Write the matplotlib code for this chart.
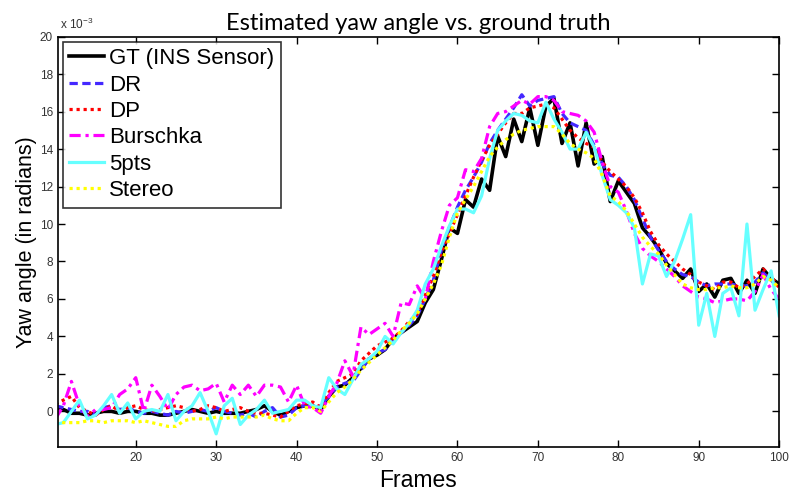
import matplotlib
matplotlib.use("Agg")
import matplotlib.pyplot as plt
import numpy as np

plt.rcParams['font.family'] = ['Liberation Sans', 'DejaVu Sans']
plt.rcParams['mathtext.default'] = 'regular'

# frames and yaw angle estimates (in units of 1e-3 rad)
frames = list(range(10, 101))

gt = [0.2, 0.1, -0.1, -0.1, -0.2, -0.1, 0.0, 0.0, -0.1, 0.0,
      0.0, -0.1, -0.1, -0.2, -0.2, -0.1, 0.0, 0.1, 0.0, -0.1,
      0.0, -0.1, -0.1, -0.1, 0.0, 0.1, 0.3, 0.0, -0.2, 0.0,
      0.2, 0.3, 0.3, 0.1, 0.8, 1.3, 1.4, 1.8, 2.3, 2.8,
      3.0, 3.3, 3.9, 4.2, 4.5, 4.8, 5.8, 6.5, 8.1, 9.8,
      9.5, 11.3, 10.9, 12.4, 11.8, 14.7, 13.6, 15.6, 14.4, 16.2,
      14.2, 16.3, 16.7, 14.3, 15.4, 13.1, 15.4, 13.2, 13.6, 11.2,
      12.3, 11.7, 11.1, 9.8, 9.3, 8.7, 7.9, 7.5, 7.1, 7.6,
      6.4, 6.8, 6.1, 7.0, 7.1, 6.3, 7.0, 6.3, 7.6, 7.1,
      6.8]

dr = [0.3, 0.2, 0.1, 0.0, 0.0, -0.2, 0.2, 0.3, 0.1, 0.2,
      0.0, -0.1, 0.0, -0.1, -0.2, 0.0, -0.1, 0.0, 0.1, 0.0,
      0.2, 0.0, -0.1, -0.2, -0.1, -0.3, 0.0, 0.2, -0.3, -0.2,
      0.2, 0.3, 0.2, 0.3, 0.8, 1.3, 1.5, 1.6, 2.2, 2.8,
      3.1, 3.3, 3.8, 4.2, 4.6, 5.1, 6.0, 7.0, 8.6, 9.8,
      10.9, 11.8, 12.5, 13.3, 14.3, 15.0, 15.6, 16.2, 16.9, 16.3,
      16.6, 16.7, 16.8, 15.9, 15.4, 15.2, 15.0, 14.2, 13.2, 12.6,
      12.5, 12.0, 11.3, 10.3, 9.3, 8.6, 8.0, 7.6, 7.3, 7.2,
      6.9, 6.7, 6.8, 6.8, 6.8, 6.7, 6.7, 6.9, 7.4, 7.0,
      6.6]

dp = [0.4, 0.6, 0.8, 0.2, 0.0, -0.2, 0.1, 0.3, 0.0, 0.2,
      0.3, 0.1, 0.0, 0.1, 0.2, 0.3, 0.2, 0.0, 0.1, 0.3,
      0.2, 0.0, 0.1, 0.2, 0.0, -0.1, -0.1, -0.2, -0.3, 0.0,
      0.3, 0.4, 0.5, 0.2, 1.0, 1.6, 1.8, 2.0, 2.7, 3.1,
      3.5, 3.7, 3.9, 4.3, 4.8, 5.2, 6.2, 7.2, 8.5, 9.5,
      10.5, 11.5, 12.5, 13.4, 14.2, 14.8, 15.4, 15.9, 15.9, 16.2,
      16.3, 16.4, 16.2, 15.6, 15.0, 14.6, 14.3, 14.1, 13.3, 12.8,
      12.4, 12.0, 11.4, 10.6, 9.6, 8.9, 8.4, 8.0, 7.6, 7.3,
      6.9, 6.7, 6.5, 6.9, 6.9, 6.6, 6.8, 7.2, 7.6, 7.2,
      6.6]

burschka = [-0.4, 0.3, 1.6, 0.3, -0.3, 0.1, 0.1, 0.2, 0.9, 1.2,
            1.8, 0.0, 1.4, 0.8, 0.1, 0.9, 1.3, 1.4, 1.1, 1.2,
            1.5, 0.5, 1.4, 0.9, 1.4, 0.8, 1.4, 1.4, 1.3, 0.5,
            1.4, 0.3, 0.2, -0.1, 0.8, 1.5, 2.7, 1.9, 4.5, 4.1,
            4.4, 4.7, 4.0, 5.8, 5.7, 6.7, 6.0, 8.0, 9.6, 11.0,
            11.4, 12.9, 12.8, 13.5, 15.2, 15.9, 16.0, 16.3, 16.6, 16.4,
            16.8, 16.8, 16.6, 16.0, 15.9, 15.8, 15.5, 14.9, 13.3, 12.0,
            11.7, 10.7, 9.5, 8.7, 8.3, 8.0, 7.6, 7.2, 6.7, 6.4,
            6.1, 6.0, 5.8, 5.9, 6.0, 6.0, 5.9, 6.4, 7.3, 6.5,
            6.0]

pts5 = [-0.7, -0.6, 0.0, 0.6, -0.4, -0.2, 0.3, 0.9, -0.1, 0.45,
        -0.4, 0.0, 0.1, 0.0, 0.9, -0.5, 0.0, 0.3, 1.0, 0.0,
        -1.2, 0.3, 0.7, -0.7, -0.2, 0.1, 0.6, -0.1, 0.0, 0.1,
        0.6, 0.6, 0.3, 0.2, 1.8, 1.2, 0.9, 1.7, 2.5, 2.8,
        3.2, 4.0, 3.6, 4.2, 4.7, 5.4, 6.8, 7.6, 8.8, 9.9,
        10.8, 10.8, 10.6, 11.5, 13.5, 15.0, 15.5, 15.9, 15.8, 15.5,
        15.4, 16.5, 15.6, 14.9, 14.0, 14.0, 14.9, 14.1, 12.6, 11.3,
        11.0, 10.6, 9.8, 6.8, 8.4, 8.3, 7.2, 8.0, 9.2, 10.5,
        4.6, 6.3, 4.0, 6.3, 6.6, 5.1, 10.0, 5.4, 6.5, 7.5,
        5.1]

stereo = [-0.5, -0.6, -0.6, -0.6, -0.5, -0.5, -0.6, -0.5, -0.5, -0.5,
          -0.6, -0.5, -0.6, -0.7, -0.8, -0.8, -0.5, -0.4, -0.4, -0.4,
          -0.3, -0.4, -0.3, -0.3, -0.3, -0.3, -0.2, -0.4, -0.5, -0.5,
          -0.1, 0.2, 0.2, 0.0, 0.5, 1.0, 1.3, 1.7, 2.2, 2.6,
          3.0, 3.4, 3.8, 4.3, 4.7, 5.2, 6.0, 6.8, 7.8, 9.3,
          10.6, 11.3, 12.0, 12.8, 13.6, 14.1, 14.5, 14.8, 15.0, 15.1,
          15.2, 15.2, 15.2, 14.8, 14.3, 14.0, 13.8, 13.5, 12.6, 11.5,
          11.2, 10.7, 10.0, 9.3, 8.8, 8.4, 7.8, 7.3, 6.8, 6.6,
          6.5, 6.5, 6.6, 6.6, 6.7, 6.6, 6.6, 6.8, 7.2, 7.0,
          6.6]

fig = plt.figure(figsize=(7.91, 4.92), dpi=100)
ax = fig.add_axes([0.073, 0.0915, 0.912, 0.834])

lw = 2.3
ax.plot(frames, gt, color='black', lw=lw + 0.3, label='GT (INS Sensor)')
ax.plot(frames, dr, color='#4428ff', lw=lw, ls=(0, (2.6, 1.4)), label='DR')
ax.plot(frames, dp, color='#ff0000', lw=lw, ls=(0, (1, 1.2)), label='DP')
ax.plot(frames, burschka, color='#ff00ff', lw=lw, ls=(0, (3.5, 1.5, 1, 1.5)), label='Burschka')
ax.plot(frames, pts5, color='#66ffff', lw=lw, label='5pts')
ax.plot(frames, stereo, color='#ffff00', lw=lw, ls=(0, (1, 1.2)), label='Stereo')

ax.set_xlim(10.3, 100)
ax.set_ylim(-1.9, 20)
ax.set_xticks(range(20, 101, 10))
ax.set_yticks(range(0, 21, 2))
ax.tick_params(direction='in', top=True, right=True, length=5, width=1,
               labelsize=8.5, labelcolor='#333333')
for s in ax.spines.values():
    s.set_linewidth(1.2)

ax.set_xlabel('Frames', fontsize=16.5, labelpad=4)
ax.set_ylabel('Yaw angle (in radians)', fontsize=15.5, labelpad=2)
ax.set_title('Estimated yaw angle vs. ground truth', fontsize=17,
             family=['Lato', 'DejaVu Sans'], pad=5)
ax.text(0.003, 1.012, r'x 10$^{-3}$', transform=ax.transAxes, fontsize=8.5,
        color='#333333', va='bottom', ha='left')

leg = ax.legend(loc='upper left', bbox_to_anchor=(0.007, 0.988), fontsize=16,
                frameon=True, fancybox=False, edgecolor='black',
                handlelength=1.55, handletextpad=0.25, labelspacing=0.24,
                borderpad=0.3, borderaxespad=0)
leg.get_frame().set_linewidth(1.2)

fig.savefig('out.png', dpi=100)
